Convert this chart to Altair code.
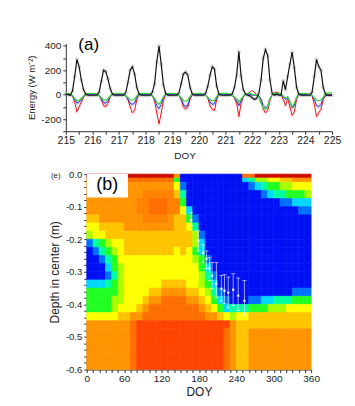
import altair as alt
import pandas as pd

FONT = "Liberation Sans"

# ---------------- panel (a): energy fluxes ----------------
DAYS = [215, 216, 217, 218, 219, 220, 221, 222, 223, 224]
HOURS = [0, 2, 4, 6, 8, 10, 12, 14, 16, 18, 20, 22]

black_by_day = [
    [5, 0, -5, 30, 150, 290, 230, 120, 40, 5, -5, -5],
    [-5, -5, -5, 20, 110, 200, 190, 130, 50, 5, -5, -5],
    [-5, -5, -5, 15, 100, 200, 230, 170, 60, 5, -5, -5],
    [-5, -5, -5, 20, 90, 270, 400, 250, 80, 10, -5, -5],
    [-5, -5, -5, 15, 90, 170, 185, 160, 60, 5, -5, -5],
    [-5, -5, -5, 10, 70, 160, 230, 210, 70, 5, -5, -5],
    [-5, -5, -5, 5, 60, 160, 355, 150, 40, 5, -5, -10],
    [-25, -40, -30, 10, 120, 300, 370, 320, 120, 10, -5, 5],
    [-5, -5, 115, 40, 150, 250, 350, 220, 60, 5, -5, -5],
    [-5, -5, -5, 20, 150, 290, 230, 200, 60, 5, -5, -5],
]
red_by_day = [
    [10, 5, 5, -10, -60, -140, -100, -60, -20, 0, 5, 5],
    [5, 5, 5, -5, -40, -90, -100, -70, -20, 0, 5, 5],
    [5, 5, 5, -5, -40, -100, -150, -130, -40, 0, 5, 5],
    [5, 5, 5, -5, -50, -150, -240, -150, -50, 0, 5, 5],
    [5, 5, 5, -5, -40, -100, -120, -100, -40, 0, 5, 5],
    [5, 5, 5, -5, -30, -90, -120, -130, -40, 0, 5, 10],
    [5, 5, 5, -5, -30, -70, -180, -70, -20, 0, 10, 20],
    [35, 20, 0, -10, -60, -120, -150, -130, -50, 0, 20, 20],
    [15, 5, -40, -90, -30, -100, -170, -140, -40, 0, 5, 5],
    [5, 5, 5, -10, -80, -180, -150, -120, -40, -10, 0, 0],
]
blue_by_day = [
    [0, 0, 0, -10, -40, -70, -60, -40, -15, 0, 0, 0],
    [0, 0, 0, -10, -35, -65, -70, -50, -15, 0, 0, 0],
    [0, 0, 0, -10, -35, -70, -80, -70, -20, 0, 0, 0],
    [0, 0, 0, -10, -40, -90, -115, -80, -25, 0, 0, 0],
    [0, 0, 0, -10, -35, -80, -100, -85, -25, 0, 0, 0],
    [0, 0, 0, -5, -25, -60, -80, -75, -25, 0, 0, 0],
    [0, 0, 0, -5, -25, -50, -90, -50, -15, 0, 0, 0],
    [-5, -5, -5, -10, -40, -90, -110, -95, -30, 0, 0, 0],
    [0, 0, -20, -40, -15, -60, -110, -90, -25, 0, 0, 0],
    [0, 0, 0, -10, -40, -90, -100, -80, -30, -10, -5, -5],
]
green_by_day = [
    [10, 10, 5, -5, -30, -50, -45, -30, -10, 5, 10, 10],
    [10, 10, 5, -5, -25, -45, -45, -30, -10, 5, 10, 10],
    [10, 10, 5, -5, -25, -40, -45, -35, -10, 5, 10, 10],
    [10, 10, 5, -5, -30, -60, -80, -50, -15, 5, 10, 10],
    [10, 10, 5, -5, -25, -50, -55, -45, -15, 5, 10, 10],
    [10, 10, 5, -5, -20, -40, -50, -45, -15, 5, 10, 10],
    [10, 10, 5, -5, -20, -35, -60, -35, -10, 5, 10, 10],
    [5, 0, -5, -20, -70, -110, -120, -100, -40, 0, 10, 10],
    [10, 5, -10, -30, -20, -60, -100, -70, -20, 5, 10, 10],
    [10, 5, 0, -5, -25, -45, -50, -45, -20, 5, 15, 15],
]
END_T = 225
black_end, red_end, blue_end, green_end = -5, 0, -5, 15

top_x_ticks = [215 + 0.5 * k for k in range(21)]
top_y_ticks = [-300, -200, -100, 0, 100, 200, 300, 400]

recs = []
for name, table, end in [("black", black_by_day, black_end), ("red", red_by_day, red_end),
                         ("blue", blue_by_day, blue_end), ("green", green_by_day, green_end)]:
    for i, d in enumerate(DAYS):
        for j, h in enumerate(HOURS):
            recs.append({"s": name, "t": d + h / 24.0, "v": table[i][j]})
    recs.append({"s": name, "t": END_T, "v": end})
ts = pd.DataFrame(recs)

xa = alt.X("t:Q", scale=alt.Scale(domain=[215, 225], nice=False, zero=False),
           axis=alt.Axis(values=top_x_ticks, title="DOY", titleFontSize=10, titlePadding=5,
                         titleX=119, labelFontSize=10.5, labelPadding=1,
                         labelExpr="datum.value % 1 === 0 ? toString(datum.value) : ''"))
ya = alt.Y("v:Q", scale=alt.Scale(domain=[-300, 420], nice=False, zero=False),
           axis=alt.Axis(values=top_y_ticks, title="Energy (W m\u207b\u00b2)", titleFontSize=9.5,
                         titlePadding=4, labelFontSize=10, labelPadding=2,
                         labelExpr="datum.value % 200 === 0 ? toString(datum.value) : ''"))

base = alt.Chart(ts)
def line(name, color, w):
    return base.transform_filter(alt.datum.s == name).mark_line(color=color, strokeWidth=w).encode(x=xa, y=ya)

def pts(name, color, cond):
    return base.transform_filter((alt.datum.s == name) & cond).mark_point(
        shape="circle", filled=False, color=color, size=10, strokeWidth=0.7, opacity=0.6).encode(x=xa, y=ya)

m_black = pts("black", "#909090", alt.datum.v > -1000)
m_red = pts("red", "#f4a0a0", alt.datum.v < -30)
m_blue = pts("blue", "#a0a0f0", alt.datum.v < -30)

lab_a = alt.Chart(pd.DataFrame({"t": [215.86], "v": [405], "txt": ["(a)"]})).mark_text(
    font=FONT, fontSize=17, color="#000", baseline="middle").encode(x=xa, y=ya, text="txt:N")

top = alt.layer(m_black, m_red, m_blue,
                line("red", "#e8141c", 1.0), line("blue", "#2030d8", 1.0),
                line("green", "#3cd83c", 1.2), line("black", "#111111", 1.2),
                lab_a).properties(width=267, height=88)

# ---------------- panel (b): depth x DOY heat map ----------------
DOY_EDGES = [10 * c for c in range(37)]
DEPTH_EDGES = [0, -0.012] + [round(-0.025 * k, 3) for k in range(1, 25)]
GRID = [
    "RRRRRRRRRRRRRR8" + "0000000000" + "99" + "RRRRRRRRR",
    "999999999999994" + "0000000000" + "23556677888",
    "88888888888888" + "61" + "000000000" + "01234455666",
    "888888888" + "bbbbb" + "73" + "000000000" + "00012334445",
    "88888888" + "b" + "b999" + "b" + "b" + "4" + "000000000" + "00000011222",
    "88888888" + "b" + "b999" + "b" + "b" + "6" + "2" + "00000000" + "00000000011",
    "77" + "888888" + "8" + "bbbb" + "8" + "7" + "7" + "4" + "1" + "0000000" + "00000000000",
    "66" + "7777" + "88888888" + "7" + "7" + "6" + "3" + "0000000" + "00000000000",
    "56" + "67" + "77" + "77777777" + "7" + "7" + "7" + "5" + "1" + "000000" + "00000000000",
    "1345" + "66" + "77777777" + "7" + "7" + "7" + "5" + "2" + "000000" + "00000000000",
    "013456" + "77777777" + "6" + "7" + "6" + "4" + "2" + "000000" + "00000000000",
    "001346" + "66666666" + "6" + "6" + "6" + "5" + "4" + "1" + "00000" + "00000000000",
    "000245" + "66666666666" + "642" + "00000" + "00000000000",
    "000135" + "666666666666" + "531" + "0000" + "00000000000",
    "222345" + "666666" + "7777" + "6" + "6" + "5" + "4" + "2" + "0000" + "00000000000",
    "444445" + "6666" + "77" + "8888" + "77" + "6" + "5" + "3" + "1" + "000" + "00000000111",
    "444455" + "666" + "7" + "88" + "9999" + "88" + "7" + "6" + "4" + "2" + "1" + "000" + "1122333444",
    "4444" + "56" + "6" + "6" + "7" + "8" + "99999999" + "8" + "7" + "6" + "4" + "2" + "333" + "444" + "555" + "6666",
    "66666" + "77" + "88" + "999999999" + "9" + "88" + "7" + "6" + "5" + "66" + "7777777777",
    "8888888" + "9" + "AAAAAAAAAAAAAA" + "A" + "8" + "77" + "7777777777",
    "8888888" + "9" + "AAAAAAAAAAAAAA" + "9" + "8" + "77" + "8888888888",
    "8888888" + "9" + "AAAAAAAAAAAAAA" + "9" + "8" + "77" + "8888888888",
    "8888888" + "9" + "AAAAAAAAAAAAAA" + "9" + "8" + "77" + "8888888888",
    "8888888" + "9" + "AAAAAAAAAAAAAA" + "9" + "8" + "77" + "8888888888",
    "8888888" + "9" + "AAAAAAAAAAAAAA" + "9" + "8" + "77" + "8888888888",
]
CODES = ["0", "1", "2", "3", "4", "5", "6", "7", "8", "b", "9", "A", "R"]
CODE_COLORS = ["#0010f5", "#0070ff", "#00d8ff", "#00ffa0", "#22ff22", "#a8ff00",
               "#ffff00", "#ffc400", "#ff9400", "#ff8200", "#ff6e00", "#ff4400", "#cc0a00"]

# observed front depth with error bars
eb_doy = [167.5, 179, 187, 192, 197, 201, 208, 216, 221, 227, 235, 243, 253]
eb_mid = [-0.142, -0.205, -0.242, -0.26, -0.29, -0.312, -0.337, -0.352, -0.358, -0.364, -0.355, -0.373, -0.389]
eb_lo = [-0.159, -0.236, -0.272, -0.291, -0.327, -0.352, -0.38, -0.39, -0.397, -0.411, -0.404, -0.419, -0.435]
eb_hi = [-0.118, -0.174, -0.217, -0.236, -0.257, -0.272, -0.272, -0.311, -0.309, -0.316, -0.306, -0.319, -0.327]

bot_x_ticks = [10 * k for k in range(37)]
bot_y_ticks = [round(-0.02 * k, 2) for k in range(31)]

cells = []
for r, row in enumerate(GRID):
    assert len(row) == 36, (r, len(row))
    for c, code in enumerate(row):
        cells.append({"x0": DOY_EDGES[c], "x1": DOY_EDGES[c + 1],
                      "y0": DEPTH_EDGES[r], "y1": DEPTH_EDGES[r + 1], "code": code})
heat_df = pd.DataFrame(cells)

bx_axis = alt.Axis(values=bot_x_ticks, title="DOY", titleFontSize=12, titlePadding=3,
                   labelFontSize=10, labelPadding=1,
                   labelExpr="datum.value % 60 === 0 ? toString(datum.value) : ''")
by_axis = alt.Axis(values=bot_y_ticks, title="Depth in center (m)", titleFontSize=12,
                   titlePadding=4, labelFontSize=9.5, labelPadding=2,
                   labelExpr="abs(round(datum.value * 100)) % 10 === 0 ? (datum.value === 0 ? '0.0' : toString(datum.value)) : ''")
bx_scale = alt.Scale(domain=[0, 360], nice=False, zero=False)
by_scale = alt.Scale(domain=[-0.6, 0], nice=False, zero=False)

def BX(f):
    return alt.X(f, type="quantitative", scale=bx_scale, axis=bx_axis)

def BY(f):
    return alt.Y(f, type="quantitative", scale=by_scale, axis=by_axis)

cscale = alt.Scale(domain=CODES, range=CODE_COLORS)
heat = alt.Chart(heat_df).mark_rect(strokeWidth=0.6).encode(
    x=BX("x0"), x2="x1", y=BY("y0"), y2="y1",
    color=alt.Color("code:N", scale=cscale, legend=None),
    stroke=alt.Stroke("code:N", scale=cscale, legend=None))

box_df = pd.DataFrame({"x0": [0], "x1": [66], "y0": [0], "y1": [-0.072]})
box = alt.Chart(box_df).mark_rect(color="white").encode(x=BX("x0"), x2="x1", y=BY("y0"), y2="y1")

lab_b = alt.Chart(pd.DataFrame({"x0": [33], "y0": [-0.034], "txt": ["(b)"]})).mark_text(
    font=FONT, fontSize=18, color="#000", baseline="middle").encode(x=BX("x0"), y=BY("y0"), text="txt:N")

eb_df = pd.DataFrame({"doy": eb_doy, "mid": eb_mid, "lo": eb_lo, "hi": eb_hi})
ebase = alt.Chart(eb_df)
e_rule = ebase.mark_rule(color="white", strokeWidth=0.7, opacity=0.85).encode(x=BX("doy"), y=BY("lo"), y2="hi")
e_cap1 = ebase.mark_tick(orient="horizontal", color="white", size=4, thickness=0.7, opacity=0.85).encode(x=BX("doy"), y=BY("lo"))
e_cap2 = ebase.mark_tick(orient="horizontal", color="white", size=4, thickness=0.7, opacity=0.85).encode(x=BX("doy"), y=BY("hi"))
e_dot = ebase.mark_point(shape="square", filled=True, color="white", size=5, opacity=0.9).encode(x=BX("doy"), y=BY("mid"))

lab_e = alt.Chart(pd.DataFrame({"txt": ["(e)"]})).mark_text(
    font=FONT, fontSize=8, color="#222", baseline="middle", align="center").encode(
    x=alt.value(-31), y=alt.value(2), text="txt:N")

bottom = alt.layer(heat, box, lab_b, e_rule, e_cap1, e_cap2, e_dot, lab_e).properties(width=225, height=196)

chart = alt.vconcat(top, bottom, spacing=43, center=True, bounds="flush").properties(
    padding={"left": 26, "top": 35, "right": 14, "bottom": 13}
).configure_view(stroke=None).configure_axis(
    labelFont=FONT, titleFont=FONT, grid=False, domainColor="#333", tickColor="#333",
    labelColor="#222", titleColor="#222", titleFontWeight="normal", labelFlush=False,
    labelOverlap=False, tickSize=3, domainWidth=1
)

chart.save("out.html", embed_options={"renderer": "svg", "actions": False})
